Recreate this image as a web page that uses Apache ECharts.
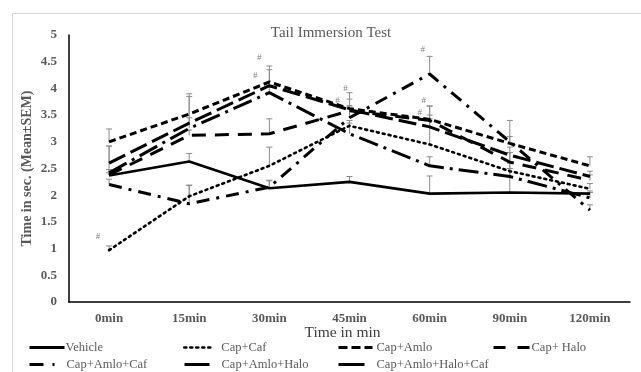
<!DOCTYPE html>
<html><head><meta charset="utf-8">
<script src="https://cdn.jsdelivr.net/npm/echarts@6/dist/echarts.min.js"></script>
<style>html,body{margin:0;padding:0;background:#fff}#c{width:641px;height:372px}</style>
</head><body><div id="c"></div>
<script>
const categories = ['0min','15min','30min','45min','60min','90min','120min'];
const yTicks = [0,0.5,1,1.5,2,2.5,3,3.5,4,4.5,5];
const seriesNames = ['Vehicle','Cap+Caf','Cap+Amlo','Cap+ Halo','Cap+Amlo+Caf','Cap+Amlo+Halo','Cap+Amlo+Halo+Caf'];
const vehicle        = [2.37, 2.63, 2.13, 2.25, 2.03, 2.05, 2.03];
const capCaf         = [0.97, 1.98, 2.55, 3.30, 2.95, 2.45, 2.12];
const capAmlo        = [3.00, 3.52, 4.12, 3.62, 3.42, 2.97, 2.55];
const capHalo        = [2.38, 3.12, 3.15, 3.58, 3.40, 2.62, 2.28];
const capAmloCaf     = [2.20, 1.84, 2.15, 3.45, 4.27, 3.00, 1.72];
const capAmloHalo    = [2.60, 3.35, 4.05, 3.60, 3.28, 2.75, 2.35];
const capAmloHaloCaf = [2.42, 3.25, 3.92, 3.15, 2.55, 2.35, 1.95];
const errVehicle        = [0.05, 0.15, 0.15, 0.10, 0.33, 0.75, 0.05];
const errCapCaf         = [0.08, 0.20, 0.35, 0.10, 0.72, 0.15, 0.10];
const errCapAmlo        = [0.24, 0.38, 0.30, 0.30, 0.25, 0.43, 0.17];
const errCapHalo        = [0.10, 0.10, 0.28, 0.10, 0.10, 0.18, 0.10];
const errCapAmloCaf     = [0.10, 0.35, 0.12, 0.20, 0.33, 0.10, 0.10];
const errCapAmloHalo    = [0.32, 0.50, 0.30, 0.20, 0.15, 0.15, 0.10];
const errCapAmloHaloCaf = [0.50, 0.20, 0.10, 0.20, 0.17, 0.15, 0.10];
// significance marks "#": [category index, value, x-offset]
const hashMarks = [[0,1.22,-11],[2,4.57,-10],[2,4.23,-14],[3,4.0,-4],[3,3.78,-12],[4,4.72,-7],[4,3.78,-6],[4,3.54,-10]];

const values = [vehicle, capCaf, capAmlo, capHalo, capAmloCaf, capAmloHalo, capAmloHaloCaf];
const errors = [errVehicle, errCapCaf, errCapAmlo, errCapHalo, errCapAmloCaf, errCapAmloHalo, errCapAmloHaloCaf];
const styles = [
  {type:'solid', width:2.6},
  {type:[2,4], width:2.6, cap:'round'},
  {type:[7,4], width:3},
  {type:[14,9], width:3},
  {type:[13,7,3,7], width:3},
  {type:[18,6], width:3},
  {type:[20,6,3,6], width:3}
];
const legendIconStyles = [
  {type:'solid', width:3},
  {type:[2,4], width:2.6, cap:'round'},
  {type:[9,4], width:3},
  {type:[12,12], width:3},
  {type:[14,9,3,20], width:3},
  {type:'solid', width:3},
  {type:'solid', width:3}
];
const serif = '"Liberation Serif","DejaVu Serif",serif';

const series = [];
values.forEach((v,i)=>{
  series.push({
    name: seriesNames[i], type:'line', data:v, symbol:'none', z:3,
    lineStyle: Object.assign({color:'#000'}, styles[i]),
    itemStyle:{color:'#000'}
  });
  series.push({
    type:'custom', z:2, silent:true,
    data: v.map((y,j)=>[j,y,y+errors[i][j]]),
    renderItem:(params,api)=>{
      const p0 = api.coord([api.value(0), api.value(1)]);
      const p1 = api.coord([api.value(0), api.value(2)]);
      const st = {stroke:'#8c8c8c', lineWidth:1};
      return {type:'group', children:[
        {type:'line', shape:{x1:p0[0],y1:p0[1],x2:p1[0],y2:p1[1]}, style:st},
        {type:'line', shape:{x1:p1[0]-3,y1:p1[1],x2:p1[0]+3,y2:p1[1]}, style:st}
      ]};
    }
  });
});
series.push({
  type:'custom', z:4, silent:true,
  data: hashMarks,
  renderItem:(params,api)=>{
    const p = api.coord([api.value(0), api.value(1)]);
    return {type:'text', x:p[0]+api.value(2), y:p[1], style:{text:'#', fill:'#7f7f7f', font:'9px '+serif, align:'center', verticalAlign:'middle'}};
  }
});

const legendPos = [[28,341],[183,341],[337,341],[492,341],[28,358],[183,358],[337,358]];
const legendW = [35,29,34,36,25,25,26];
const legendTextGap = [1,8,4,2,12,12,12];
const legends = seriesNames.map((n,i)=>({
  data:[n], left:legendPos[i][0], top:legendPos[i][1], itemWidth:legendW[i], itemHeight:12, itemGap:0,
  selectedMode:false, padding:0,
  itemStyle:{opacity:0},
  lineStyle: Object.assign({color:'#000', inactiveColor:'#000'}, legendIconStyles[i]),
  textStyle:{fontFamily:serif, fontSize:12.5, color:'#595959', padding:[0,0,0,legendTextGap[i]-5]}
}));

const chart = echarts.init(document.getElementById('c'));
chart.setOption({
  animation:false,
  backgroundColor:'#fff',
  title:{text:'Tail Immersion Test', left:326, top:21, textAlign:'center',
    textStyle:{fontFamily:serif, fontSize:15, fontWeight:'normal', color:'#595959'}},
  legend: legends,
  graphic:[{type:'rect', shape:{x:12.5,y:13.5,width:640,height:370}, style:{fill:'none', stroke:'#d9d9d9', lineWidth:1}, silent:true}],
  grid:{left:69, right:11, top:35, bottom:70},
  xAxis:{type:'category', data:categories, boundaryGap:true,
    name:'Time in min', nameLocation:'middle', nameGap:23, nameMoveOverlap:false,
    nameTextStyle:{fontFamily:serif, fontSize:15.5, color:'#404040', padding:[0,14,0,0]},
    axisLine:{lineStyle:{color:'#000', width:1.5}}, axisTick:{show:false},
    axisLabel:{fontFamily:serif, fontSize:13, fontWeight:'bold', color:'#595959', margin:10}},
  yAxis:{type:'value', min:yTicks[0], max:yTicks[yTicks.length-1], interval:0.5,
    name:'Time in sec. (Mean±SEM)', nameLocation:'middle', nameGap:35, nameMoveOverlap:false,
    nameTextStyle:{fontFamily:serif, fontSize:14, fontWeight:'bold', color:'#595959'},
    axisLine:{show:true, lineStyle:{color:'#000', width:1.5}}, axisTick:{show:false},
    splitLine:{show:false},
    axisLabel:{fontFamily:serif, fontSize:13, fontWeight:'bold', color:'#595959', margin:12}},
  series: series
});
</script></body></html>
